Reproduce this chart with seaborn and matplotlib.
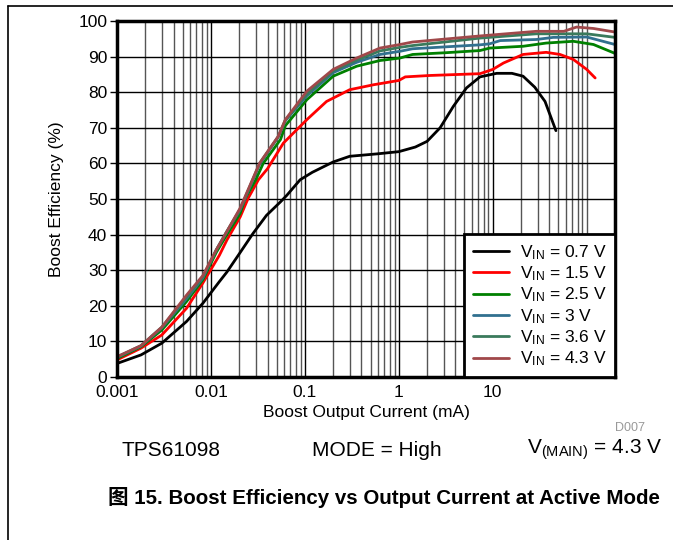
import numpy as np
import pandas as pd
import matplotlib
matplotlib.use('Agg')
import matplotlib.pyplot as plt
from matplotlib.lines import Line2D
from matplotlib.ticker import FixedLocator, NullFormatter
import seaborn as sns

# Curvas de eficiência (corrente em mA, eficiência em %)
i_07 = [0.001, 0.0018, 0.003, 0.0055, 0.0082, 0.0123, 0.0148, 0.0205, 0.028, 0.039, 0.055,
        0.064, 0.089, 0.12, 0.2, 0.3, 0.6, 1.0, 1.5, 2.0, 2.75, 3.8, 5.25, 7.3, 11, 16,
        21, 28, 36, 47]
e_07 = [3.8, 6.2, 9.5, 15.6, 20.7, 26.8, 29.5, 35, 40.3, 45.4, 49.2,
        51, 55.4, 57.5, 60.4, 62, 62.7, 63.3, 64.6, 66.2, 70, 76, 81.2, 84.3, 85.3, 85.3,
        84.5, 81.4, 77.4, 69.2]

i_15 = [0.001, 0.0018, 0.003, 0.0055, 0.0082, 0.0123, 0.0148, 0.0205, 0.025, 0.032, 0.04,
        0.059, 0.105, 0.17, 0.3, 0.54, 1.0, 1.17, 2.15, 7.3, 10, 13, 21, 37, 52, 72, 100, 123]
e_15 = [4.8, 8.1, 11.8, 19.3, 26.4, 34.2, 38.5, 45, 50.3, 55.4, 58.5,
        65.7, 72.3, 77.4, 80.7, 82.1, 83.3, 84.3, 84.7, 85.2, 86.4, 88.2, 90.6, 91.2, 90.6, 89.2, 86.4, 84]

i_25 = [0.001, 0.0018, 0.003, 0.0055, 0.0082, 0.0114, 0.0148, 0.0205, 0.023, 0.03, 0.036,
        0.055, 0.062, 0.105, 0.2, 0.356, 0.63, 1.03, 1.4, 3.2, 7.3, 9.3, 21, 37, 72, 118, 200]
e_25 = [5.2, 8.5, 13.2, 21.2, 27.3, 35, 40, 46, 50, 55.4, 60,
        66.7, 70.6, 77.9, 84.5, 87.3, 88.9, 89.6, 90.6, 91.1, 91.7, 92.4, 92.9, 93.8, 94.3, 93.4, 90.9]

i_30 = [0.001, 0.0018, 0.003, 0.0055, 0.0082, 0.0114, 0.0148, 0.0205, 0.033, 0.052, 0.062,
        0.105, 0.2, 0.356, 0.63, 1.03, 1.4, 7.3, 9.3, 12, 29, 44, 100, 200]
e_30 = [5.5, 8.7, 13.8, 22, 27.8, 35.7, 40.9, 47, 59.8, 67.4, 72,
        79, 85.5, 88.4, 90.6, 91.5, 92.2, 93.3, 93.6, 94.5, 94.8, 95.4, 95.5, 93.4]

i_36 = [0.001, 0.0018, 0.003, 0.0055, 0.0082, 0.0114, 0.0148, 0.0205, 0.033, 0.052, 0.062,
        0.105, 0.2, 0.356, 0.63, 1.03, 1.4, 7.3, 29, 100, 200]
e_36 = [5.6, 8.8, 14, 22.5, 28.2, 35.7, 40.9, 47.2, 60, 67.5, 72.2,
        79.5, 86, 89, 91.6, 92.6, 93.1, 95.2, 96.4, 96.4, 95.4]

i_43 = [0.001, 0.0018, 0.003, 0.0055, 0.0082, 0.0114, 0.0148, 0.0205, 0.033, 0.052, 0.062,
        0.105, 0.2, 0.356, 0.63, 1.03, 1.4, 7.3, 29, 57, 78, 118, 200]
e_43 = [5.7, 8.8, 14, 23, 28.5, 35.7, 40.9, 47.5, 60.1, 67.6, 72.3,
        80.3, 86.4, 89.6, 92.4, 93.4, 94.1, 95.8, 97.1, 97.1, 98.3, 97.9, 96.9]

rotulos = ['V$_{\\mathrm{IN}}$ = 0.7 V', 'V$_{\\mathrm{IN}}$ = 1.5 V', 'V$_{\\mathrm{IN}}$ = 2.5 V',
           'V$_{\\mathrm{IN}}$ = 3 V', 'V$_{\\mathrm{IN}}$ = 3.6 V', 'V$_{\\mathrm{IN}}$ = 4.3 V']
cores = ['#000000', '#ff0000', '#008000', '#31708f', '#3a7a5c', '#a0484a']
xticks = [0.001, 0.01, 0.1, 1, 10]
xticklabels = ['0.001', '0.01', '0.1', '1', '10']

# Monta tabela longa para o seaborn
series = [(i_07, e_07), (i_15, e_15), (i_25, e_25), (i_30, e_30), (i_36, e_36), (i_43, e_43)]
dados = pd.concat([pd.DataFrame({'corrente': x, 'eficiencia': y, 'vin': r})
                   for (x, y), r in zip(series, rotulos)], ignore_index=True)

sns.set_style('white')
plt.rcParams['font.family'] = ['Liberation Sans', 'Noto Sans CJK SC', 'DejaVu Sans']
plt.rcParams['mathtext.fontset'] = 'custom'
plt.rcParams['mathtext.rm'] = 'Liberation Sans'
plt.rcParams['mathtext.it'] = 'Liberation Sans'
for chave in ['text.color', 'axes.labelcolor', 'xtick.color', 'ytick.color']:
    plt.rcParams[chave] = 'black'

fig = plt.figure(figsize=(6.73, 5.40), dpi=100)
ax = fig.add_axes([117 / 673, 1 - 377 / 540, 498 / 673, 356 / 540])

sns.lineplot(data=dados, x='corrente', y='eficiencia', hue='vin', palette=cores,
             estimator=None, sort=False, linewidth=2, ax=ax)

ax.set_xscale('log')
ax.set_xlim(0.001, 200)
ax.set_ylim(0, 100)
ax.xaxis.set_major_locator(FixedLocator(xticks))
ax.set_xticklabels(xticklabels)
minor = [m * 10.0 ** d for d in range(-3, 2) for m in range(2, 10)] + [100]
ax.xaxis.set_minor_locator(FixedLocator(minor))
ax.xaxis.set_minor_formatter(NullFormatter())
ax.set_yticks(range(0, 101, 10))

ax.grid(which='major', axis='both', color='black', linewidth=1)
ax.grid(which='minor', axis='x', color='#555555', linewidth=1)
ax.set_axisbelow(True)
for s in ax.spines.values():
    s.set_linewidth(2.5)
    s.set_color('black')
ax.tick_params(axis='x', which='both', length=0, labelsize=12.5, pad=6)
ax.tick_params(axis='y', length=5, width=1, labelsize=12.5, pad=2, left=True)

ax.set_xlabel('Boost Output Current (mA)', fontsize=12.5, labelpad=3)
ax.set_ylabel('Boost Efficiency (%)', fontsize=12.5, labelpad=10)

leg = ax.legend(loc='lower right', fontsize=12.5, frameon=True, fancybox=False,
                edgecolor='black', framealpha=1, borderaxespad=0, handlelength=2.1,
                labelspacing=0.15, borderpad=0.5, handletextpad=0.6)
leg.get_frame().set_linewidth(2)

fig.text(645 / 673, 1 - 428 / 540, 'D007', fontsize=9, color='#999999', ha='right', va='center')
fig.text(171 / 673, 1 - 450 / 540, 'TPS61098', fontsize=15, ha='center', va='center')
fig.text(377 / 673, 1 - 450 / 540, 'MODE = High', fontsize=15, ha='center', va='center')
fig.text(662 / 673, 1 - 450 / 540, 'V$_{\\mathrm{(MAIN)}}$ = 4.3 V', fontsize=15, ha='right', va='center')
fig.text(108 / 673, 1 - 497 / 540, '图 15. Boost Efficiency vs Output Current at Active Mode',
         fontsize=14.8, fontweight='bold', ha='left', va='center')

# Moldura da página
fig.add_artist(Line2D([8 / 673, 1], [1 - 6 / 540, 1 - 6 / 540], color='black', linewidth=1.2,
                      transform=fig.transFigure))
fig.add_artist(Line2D([8 / 673, 8 / 673], [1 - 6 / 540, 0], color='black', linewidth=1.2,
                      transform=fig.transFigure))

fig.savefig('out.png', dpi=100)
